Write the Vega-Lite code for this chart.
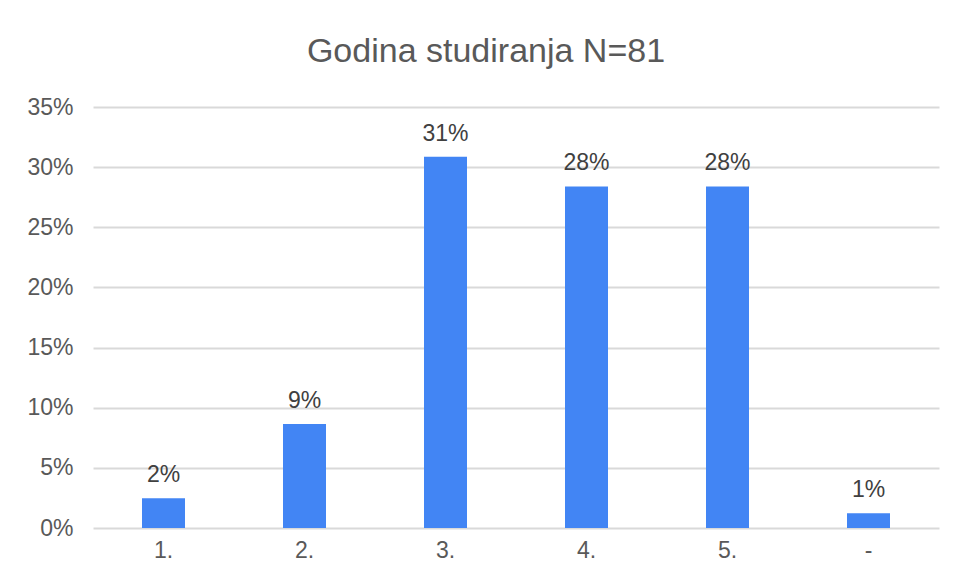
{
  "$schema": "https://vega.github.io/schema/vega-lite/v6.json",
  "width": 846,
  "height": 421,
  "autosize": {"type": "none"},
  "padding": {"left": 93, "top": 107, "right": 16, "bottom": 53},
  "background": "white",
  "title": {
    "text": "Godina studiranja N=81",
    "font": "Liberation Sans",
    "fontSize": 34,
    "fontWeight": "normal",
    "color": "#595959",
    "anchor": "middle",
    "dx": -30,
    "offset": 27
  },
  "data": {
    "values": [
      {"godina": "1.", "udio": 0.0247},
      {"godina": "2.", "udio": 0.0864},
      {"godina": "3.", "udio": 0.3086},
      {"godina": "4.", "udio": 0.2840},
      {"godina": "5.", "udio": 0.2840},
      {"godina": "-", "udio": 0.0123}
    ]
  },
  "encoding": {
    "x": {
      "field": "godina",
      "type": "nominal",
      "sort": null,
      "scale": {"paddingInner": 0.695, "paddingOuter": 0.3475},
      "axis": {
        "title": null,
        "labelAngle": 0,
        "domain": false,
        "ticks": false,
        "labelPadding": 11,
        "labelFont": "Liberation Sans",
        "labelFontSize": 23,
        "labelColor": "#595959"
      }
    },
    "y": {
      "field": "udio",
      "type": "quantitative",
      "scale": {"domain": [0, 0.35]},
      "axis": {
        "title": null,
        "format": ".0%",
        "values": [0, 0.05, 0.1, 0.15, 0.2, 0.25, 0.3, 0.35],
        "domain": false,
        "ticks": false,
        "labelPadding": 20,
        "labelFont": "Liberation Sans",
        "labelFontSize": 23,
        "labelColor": "#595959",
        "gridColor": "#d9d9d9",
        "gridWidth": 2
      }
    }
  },
  "layer": [
    {"mark": {"type": "bar", "color": "#4285F4"}},
    {
      "mark": {
        "type": "text",
        "baseline": "alphabetic",
        "dy": -16,
        "font": "Liberation Sans",
        "fontSize": 23,
        "color": "#404040"
      },
      "encoding": {"text": {"field": "udio", "format": ".0%"}}
    }
  ],
  "config": {"view": {"stroke": null}}
}
